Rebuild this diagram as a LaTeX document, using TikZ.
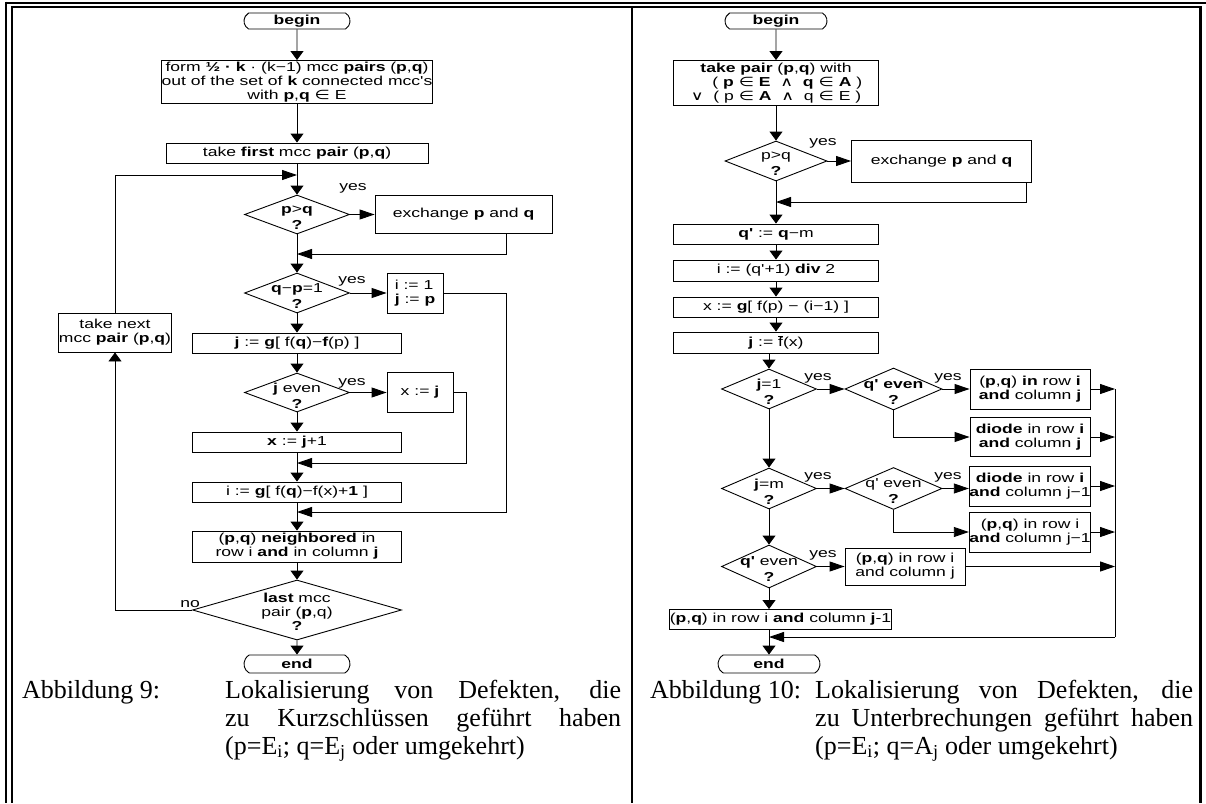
\documentclass[tikz,border=0pt]{standalone}
\usepackage{fontspec}
\setmainfont{Liberation Serif}
\newfontfamily\fcf[FakeStretch=1.35]{Liberation Sans}
\newfontfamily\symf[FakeStretch=1.35]{DejaVu Sans}
\usetikzlibrary{shapes.geometric,shapes.misc,arrows.meta}
\newcommand{\fbarx}{$\overline{\hbox{f}}$}
\newcommand{\inn}{{\symf ∈}}
\newcommand{\andd}{{\symf ∧}}
\newcommand{\orr}{{\symf ∨}}
\tikzset{
  fc/.style={font=\fcf\fontsize{13}{14}\selectfont},
  box/.style={draw, line width=0.9pt, fc, inner sep=0pt, align=center},
  term/.style={draw, rounded rectangle, rounded rectangle arc length=120, fc, inner sep=0pt, line width=0.9pt},
  dia/.style={draw, diamond, inner sep=0pt, line width=0.9pt},
  lbl/.style={fc, inner sep=0pt},
  conn/.style={line width=0.9pt},
  va/.style={conn, -{Triangle[length=9pt,width=13pt]}},
  ha/.style={conn, -{Triangle[length=15pt,width=10pt]}},
  capt/.style={font=\fontsize{26}{28}\selectfont, inner sep=0pt},
  frame/.style={line width=2.4pt},
}
\begin{document}
\begin{tikzpicture}[x=1pt,y=-1pt]
\useasboundingbox (0,0) rectangle (1206,803);
% frame
\draw[frame] (5,2.9) -- (1206,2.9);
\draw[frame] (6.2,1.7) -- (6.2,803);
\draw[frame] (10.8,7.2) -- (1201.5,7.2);
\draw[frame] (12,6) -- (12,803);
\draw[frame] (1200.3,6) -- (1200.3,803);
\draw[line width=1.4pt] (632,8) -- (632,803);

% ---------------- left flowchart ----------------
\node[term, minimum width=106pt, minimum height=16pt] (lbegin) at (297,21) {\textbf{begin}};
\node[box, minimum width=270pt, minimum height=43pt] (lb1) at (297,82)
  {form \textbf{½ · k} · (k−1) mcc \textbf{pairs} (\textbf{p},\textbf{q})\\
   out of the set of \textbf{k} connected mcc's\\
   with \textbf{p},\textbf{q} \inn\ E};
\node[box, minimum width=262pt, minimum height=20pt] (lb2) at (297,153)
  {take \textbf{first} mcc \textbf{pair} (\textbf{p},\textbf{q})};
\node[dia, minimum width=105pt, minimum height=39pt,
  label={[lbl,align=center,yshift=-3pt]center:{\textbf{p}>\textbf{q}\\[2pt]\textbf{?}}}] (ld1) at (297,214.5) {};
\node[box, minimum width=177pt, minimum height=38pt] (lex) at (463.5,214.5) {exchange \textbf{p} and \textbf{q}};
\node[dia, minimum width=105pt, minimum height=40pt,
  label={[lbl,align=center,yshift=-3pt]center:{\textbf{q}−\textbf{p}=1\\[2pt]\textbf{?}}}] (ld2) at (297,293) {};
\node[box, minimum width=56pt, minimum height=40pt, align=left] (lij) at (415,293) {i := 1\\\textbf{j} := \textbf{p}};
\node[box, minimum width=209pt, minimum height=20pt] (lj) at (297,343)
  {\textbf{j} := \textbf{g}[ f(\textbf{q})−\textbf{f}(p) ]};
\node[dia, minimum width=105pt, minimum height=39pt,
  label={[lbl,align=center,yshift=-3pt]center:{\textbf{j} even\\[2pt]\textbf{?}}}] (ld3) at (297,392.5) {};
\node[box, minimum width=66pt, minimum height=40pt] (lx) at (420,392.5) {x := \textbf{j}};
\node[box, minimum width=209pt, minimum height=20pt] (lx1) at (297,442) {\textbf{x} := \textbf{j}+1};
\node[box, minimum width=209pt, minimum height=20pt] (li) at (297,492)
  {i := \textbf{g}[ f(\textbf{q})−f(x)+\textbf{1} ]};
\node[box, minimum width=209pt, minimum height=31pt] (lnb) at (297,546.5)
  {(\textbf{p},\textbf{q}) \textbf{neighbored} in\\row i \textbf{and} in column \textbf{j}};
\node[dia, minimum width=209pt, minimum height=60pt,
  label={[lbl,align=center,yshift=-2pt]center:{\textbf{last} mcc\\pair (\textbf{p},q)\\\textbf{?}}}] (ld4) at (297,610) {};
\node[term, minimum width=106pt, minimum height=18pt] (lend) at (297,664) {\textbf{end}};
\node[box, minimum width=104pt, minimum height=39pt] (ltn) at (115,332.5) {take next\\mcc \textbf{pair} (\textbf{p},\textbf{q})};

\node[lbl, anchor=base] (ly1) at (353,190) {yes};
\node[lbl, anchor=base] (ly2) at (352,283) {yes};
\node[lbl, anchor=base] (ly3) at (352,385) {yes};
\node[lbl, anchor=base east] (lno) at (200,607) {no};

\coordinate (la1) at (506,254);  \coordinate (lm1) at (297,254);
\coordinate (la2) at (506,512);  \coordinate (lm2) at (297,512);
\coordinate (la3) at (466,463);  \coordinate (lm3) at (297,463);
\coordinate (ln1) at (115,610);  \coordinate (ln2) at (115,175);
\coordinate (lm0) at (297,175);

\draw[va] (lbegin) -- (lb1);
\draw[va] (lb1) -- (lb2);
\draw[va] (lb2) -- (ld1);
\draw[ha] (ld1.east) -- (ld1.east -| lex.west);
\draw[ha] (la1 |- lex.south) -- (la1) -- (lm1);
\draw[va] (ld1) -- (ld2);
\draw[ha] (ld2.east) -- (ld2.east -| lij.west);
\draw[ha] (lij.east) -- (la2 |- lij.east) -- (la2) -- (lm2);
\draw[va] (ld2) -- (lj);
\draw[va] (lj) -- (ld3);
\draw[ha] (ld3.east) -- (ld3.east -| lx.west);
\draw[ha] (lx.east) -- (la3 |- lx.east) -- (la3) -- (lm3);
\draw[va] (ld3) -- (lx1);
\draw[va] (lx1) -- (li);
\draw[va] (li) -- (lnb);
\draw[va] (lnb) -- (ld4);
\draw[va] (ld4) -- (lend);
\draw[va] (ld4.west) -- (ln1) -- (ltn.south);
\draw[ha] (ltn.north) -- (ln2) -- (lm0);

% ---------------- right flowchart ----------------
\node[term, minimum width=102pt, minimum height=16pt] (rbegin) at (776,21) {\textbf{begin}};
\node[box, minimum width=205pt, minimum height=45pt] (rb1) at (776,83)
  {\textbf{take pair} (\textbf{p},\textbf{q}) with\\
   \phantom{\orr}\ \ ( \textbf{p} \inn\ \textbf{E} \ \andd\ \ \textbf{q} \inn\ \textbf{A} )\\
   \orr\ \ ( p \inn\ \textbf{A} \ \andd\ \ q \inn\ E )};
\node[dia, minimum width=102pt, minimum height=40pt,
  label={[lbl,align=center,yshift=-3pt]center:{p>q\\[2pt]\textbf{?}}}] (rd1) at (776,161) {};
\node[box, minimum width=180pt, minimum height=42pt] (rex) at (941.5,161) {exchange \textbf{p} and \textbf{q}};
\node[box, minimum width=205pt, minimum height=20pt] (rq) at (776,234) {\textbf{q'} := \textbf{q}−m};
\node[box, minimum width=205pt, minimum height=21pt] (ri) at (776,270.5) {i := (q'+1) \textbf{div} 2};
\node[box, minimum width=205pt, minimum height=20pt] (rx) at (776,307) {x := \textbf{g}[ f(p) − (i−1) ]};
\node[box, minimum width=205pt, minimum height=21pt] (rj) at (776,342.5) {\textbf{j} := \fbarx(x)};
\node[dia, minimum width=95pt, minimum height=40pt,
  label={[lbl,align=center,yshift=-3pt]center:{\textbf{j}=1\\[2pt]\textbf{?}}}] (rd2) at (769,389) {};
\node[dia, minimum width=97pt, minimum height=42pt,
  label={[lbl,align=center,yshift=-3pt]center:{\textbf{q'} \textbf{even}\\[2pt]\textbf{?}}}] (rd3) at (893.5,389) {};
\node[box, minimum width=120pt, minimum height=40pt] (rr1) at (1030,389)
  {(\textbf{p},\textbf{q}) \textbf{in} row \textbf{i}\\\textbf{and} column \textbf{j}};
\node[box, minimum width=120pt, minimum height=39pt] (rr2) at (1030,437)
  {\textbf{diode} in row \textbf{i}\\\textbf{and} column \textbf{j}};
\node[dia, minimum width=95pt, minimum height=41pt,
  label={[lbl,align=center,yshift=-3pt]center:{\textbf{j}=m\\[2pt]\textbf{?}}}] (rd4) at (769,488.5) {};
\node[dia, minimum width=97pt, minimum height=42pt,
  label={[lbl,align=center,yshift=-3pt]center:{q' even\\[2pt]\textbf{?}}}] (rd5) at (893.5,488.5) {};
\node[box, minimum width=120pt, minimum height=40pt] (rr3) at (1030,486)
  {\textbf{diode} in row \textbf{i}\\\textbf{and} column j−1};
\node[box, minimum width=120pt, minimum height=40pt] (rr4) at (1030,532)
  {(\textbf{p},\textbf{q}) in row i\\\textbf{and} column j−1};
\node[dia, minimum width=95pt, minimum height=43pt,
  label={[lbl,align=center,yshift=-3pt]center:{\textbf{q'} even\\[2pt]\textbf{?}}}] (rd6) at (769,566.5) {};
\node[box, minimum width=120pt, minimum height=37pt] (rr5) at (905,566.5)
  {(\textbf{p},\textbf{q}) in row i\\and column j};
\node[box, minimum width=217pt, minimum height=20pt] (rlast) at (780.5,619.5)
  {(\textbf{p},\textbf{q}) in row i \textbf{and} column \textbf{j}-1};
\node[term, minimum width=102pt, minimum height=18pt] (rend) at (769,664) {\textbf{end}};

\node[lbl, anchor=base] (ry1) at (823,145) {yes};
\node[lbl, anchor=base] (ry2) at (818,380) {yes};
\node[lbl, anchor=base] (ry3) at (948,380) {yes};
\node[lbl, anchor=base] (ry4) at (818,479) {yes};
\node[lbl, anchor=base] (ry5) at (948,479) {yes};
\node[lbl, anchor=base] (ry6) at (823,557) {yes};

\coordinate (ra1) at (1026,202); \coordinate (rm1) at (776,202);
\coordinate (rbt) at (1115,389); \coordinate (rbb) at (1115,637);
\coordinate (rm2) at (769,637);

\draw[va] (rbegin) -- (rb1);
\draw[va] (rb1) -- (rd1);
\draw[ha] (rd1.east) -- (rd1.east -| rex.west);
\draw[ha] (ra1 |- rex.south) -- (ra1) -- (rm1);
\draw[va] (rd1) -- (rq);
\draw[va] (rq) -- (ri);
\draw[va] (ri) -- (rx);
\draw[va] (rx) -- (rj);
\draw[va] (rd2.north |- rj.south) -- (rd2.north);
\draw[ha] (rd2.east) -- (rd3.west);
\draw[ha] (rd3.east) -- (rd3.east -| rr1.west);
\draw[ha] (rd3.south) -- (rd3.south |- rr2.west) -- (rr2.west);
\draw[va] (rd2) -- (rd4);
\draw[ha] (rd4.east) -- (rd5.west);
\draw[ha] (rd5.east) -- (rd5.east -| rr3.west);
\draw[ha] (rd5.south) -- (rd5.south |- rr4.west) -- (rr4.west);
\draw[va] (rd4) -- (rd6);
\draw[ha] (rd6.east) -- (rd6.east -| rr5.west);
\draw[va] (rd6.south) -- (rd6.south |- rlast.north);
\draw[va] (rend.north |- rlast.south) -- (rend.north);
\draw[ha] (rr1.east) -- (rr1.east -| rbt);
\draw[ha] (rr2.east) -- (rr2.east -| rbt);
\draw[ha] (rr3.east) -- (rr3.east -| rbt);
\draw[ha] (rr4.east) -- (rr4.east -| rbt);
\draw[ha] (rr5.east) -- (rr5.east -| rbt);
\draw[conn] (rbt) -- (rbb);
\draw[ha] (rbb) -- (rm2);

% ---------------- captions ----------------
\node[capt, anchor=base west] (lc1) at (22,698) {Abbildung 9:};
\node[capt, anchor=base west, text width=396pt, align=justify] (lc2) at (225,698)
  {Lokalisierung von Defekten, die\linebreak zu Kurzschlüssen geführt haben\linebreak (p=E\textsubscript{i}; q=E\textsubscript{j} oder umgekehrt)};
\node[capt, anchor=base west] (rc1) at (650,698) {Abbildung 10:};
\node[capt, anchor=base west, text width=378pt, align=justify] (rc2) at (815,698)
  {Lokalisierung von Defekten, die\linebreak zu Unterbrechungen geführt haben\linebreak (p=E\textsubscript{i}; q=A\textsubscript{j} oder umgekehrt)};
\end{tikzpicture}
\end{document}
